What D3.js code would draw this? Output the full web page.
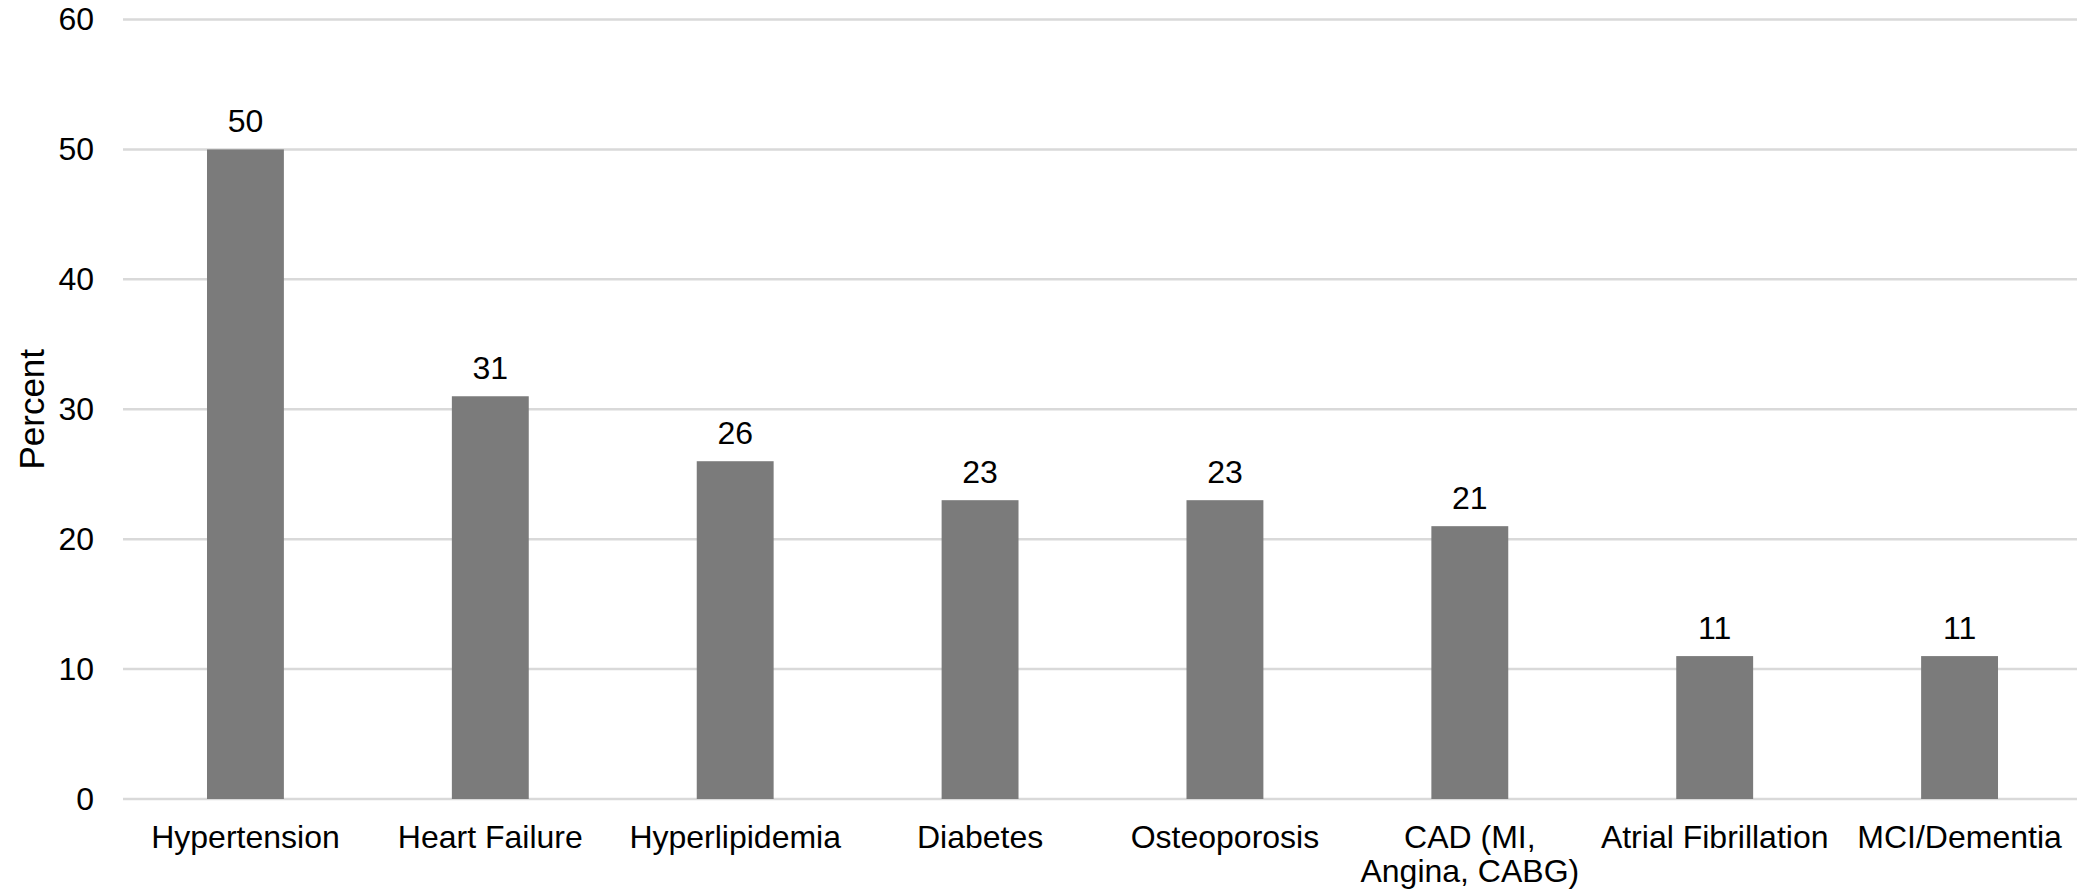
<!DOCTYPE html>
<html><head><meta charset="utf-8">
<script src="https://cdn.jsdelivr.net/npm/d3@7"></script>
<style>body{margin:0;background:#fff}text{font-family:"Liberation Sans",Arial,sans-serif;fill:#000}</style>
</head><body>
<svg id="c" width="2077" height="891"></svg>
<script>
const categories = ["Hypertension","Heart Failure","Hyperlipidemia","Diabetes","Osteoporosis","CAD (MI, Angina, CABG)","Atrial Fibrillation","MCI/Dementia"];
const values = [50,31,26,23,23,21,11,11];
const yTicks = [0,10,20,30,40,50,60];
const yLabel = "Percent";

(function(){
const svg = d3.select("#c");
const mLeft = 123, mRight = 2082, mTop = 19.5, mBottom = 799;
const fs = 32;
const x = d3.scaleBand().domain(categories).range([mLeft,mRight]).paddingInner(0.686).paddingOuter(0.343);
const y = d3.scaleLinear().domain([0,60]).range([mBottom,mTop]);

// gridlines
svg.append("g").selectAll("line").data(yTicks).join("line")
  .attr("x1",mLeft).attr("x2",2077).attr("y1",d=>y(d)).attr("y2",d=>y(d))
  .attr("stroke","#d9d9d9").attr("stroke-width",2.5);

// y axis labels
const yAxis = d3.axisLeft(y).tickValues(yTicks).tickSize(0).tickPadding(29);
const gy = svg.append("g").attr("transform",`translate(${mLeft},0)`).call(yAxis);
gy.select(".domain").remove();
gy.selectAll("text").attr("font-size",fs).attr("font-family","Liberation Sans, Arial, sans-serif").attr("fill","#000");

// bars
svg.append("g").selectAll("rect").data(values).join("rect")
  .attr("x",(d,i)=>x(categories[i])).attr("width",x.bandwidth())
  .attr("y",d=>y(d)).attr("height",d=>y(0)-y(d)).attr("fill","#7b7b7b");

// value labels
svg.append("g").selectAll("text").data(values).join("text")
  .attr("x",(d,i)=>x(categories[i])+x.bandwidth()/2).attr("y",d=>y(d)-17)
  .attr("text-anchor","middle").attr("font-size",fs).text(d=>d);

// x axis labels
const xAxis = d3.axisBottom(x).tickSize(0).tickPadding(0);
const gx = svg.append("g").attr("transform",`translate(0,${mBottom})`).call(xAxis);
gx.select(".domain").remove();
gx.selectAll("text").each(function(d){
  const t = d3.select(this);
  t.text(null).attr("font-size",fs).attr("font-family","Liberation Sans, Arial, sans-serif").attr("fill","#000").attr("y",null).attr("dy",null);
  const words = d.split(" ");
  let lines = [], cur = [];
  const tmp = svg.append("text").attr("font-size",fs);
  words.forEach(w=>{
    const test = cur.concat([w]).join(" ");
    tmp.text(test);
    if (tmp.node().getComputedTextLength() > 235 && cur.length) { lines.push(cur.join(" ")); cur=[w]; }
    else cur.push(w);
  });
  lines.push(cur.join(" "));
  tmp.remove();
  lines.forEach((l,i)=>{
    t.append("tspan").attr("x",0).attr("y",49 + i*34).text(l);
  });
});

// y title
svg.append("text").attr("transform",`translate(44,${(mTop+mBottom)/2}) rotate(-90)`)
  .attr("text-anchor","middle").attr("font-size",35).text(yLabel);
})();
</script>
</body></html>
